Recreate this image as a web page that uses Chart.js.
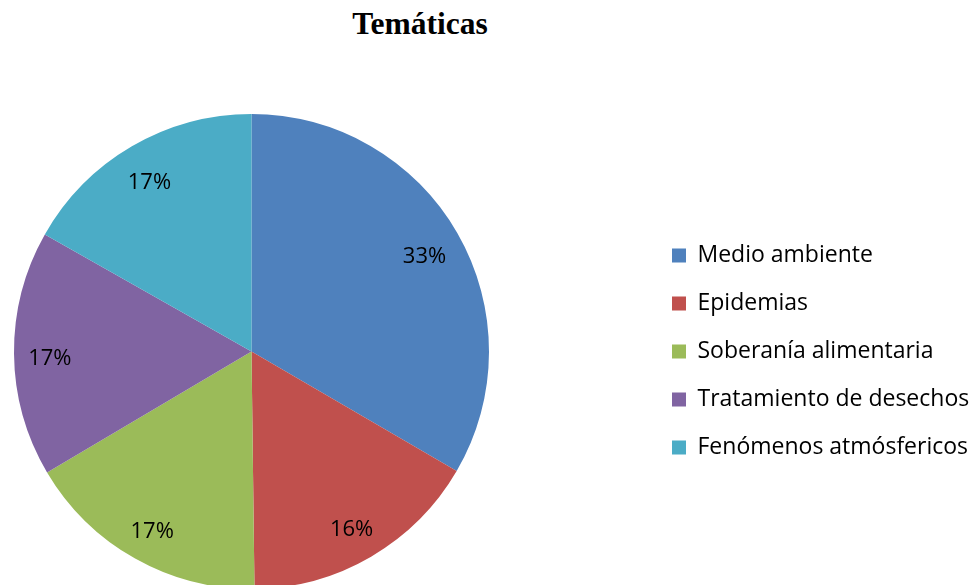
<!DOCTYPE html>
<html>
<head>
<meta charset="utf-8">
<script src="https://cdn.jsdelivr.net/npm/chart.js@4.4.1/dist/chart.umd.min.js"></script>
<style>
  html, body { margin: 0; padding: 0; background: #fff; overflow: hidden; }
  #wrap { position: relative; width: 973px; height: 585px; overflow: hidden; }
  #title {
    position: absolute; left: 220px; width: 400px; top: 6px;
    text-align: center; font: bold 31.5px "Liberation Serif", serif; color: #000;
  }
  #myChart { position: absolute; left: -144px; top: 0; }
</style>
</head>
<body>
<div id="wrap">
  <div id="title">Temáticas</div>
  <canvas id="myChart" width="1220" height="600"></canvas>
</div>
<script>
// datos
const categories = ['Medio ambiente', 'Epidemias', 'Soberanía alimentaria', 'Tratamiento de desechos', 'Fenómenos atmósfericos'];
const shares = [33.4, 16.4, 16.7, 16.7, 16.8];
const sliceColors = ['#4F81BD', '#C0504D', '#9BBB59', '#8064A2', '#4BACC6'];

// ancho del área del gráfico (el pastel queda centrado en ella)
const AREA_W = 791;

// etiquetas de porcentaje dentro de cada porción
const pctLabels = {
  id: 'pctLabels',
  afterDatasetsDraw(chart) {
    const ctx = chart.ctx;
    const meta = chart.getDatasetMeta(0);
    ctx.save();
    ctx.font = '22px "Open Sans"';
    ctx.fillStyle = '#000';
    ctx.textAlign = 'center';
    ctx.textBaseline = 'middle';
    meta.data.forEach((arc, i) => {
      const p = arc.getProps(['x', 'y', 'startAngle', 'endAngle', 'outerRadius'], true);
      const mid = (p.startAngle + p.endAngle) / 2;
      const r = p.outerRadius * 0.845;
      ctx.fillText(Math.round(shares[i]) + '%', p.x + Math.cos(mid) * r - 1, p.y + Math.sin(mid) * r + 5);
    });
    ctx.restore();
  }
};

Chart.defaults.font.family = '"Open Sans"';

const canvas = document.getElementById('myChart');
const ctx = canvas.getContext('2d');

const chart = new Chart(ctx, {
  type: 'pie',
  data: {
    labels: categories,
    datasets: [
      {
        data: shares,
        backgroundColor: sliceColors,
        borderWidth: 0
      }
    ]
  },
  options: {
    responsive: false,
    animation: false,
    layout: { padding: { left: 0, right: 0, top: 114, bottom: 11 } },
    plugins: {
      title: { display: false },
      tooltip: { enabled: false },
      legend: {
        position: 'right',
        labels: {
          boxWidth: 14,
          boxHeight: 14,
          padding: 25,
          color: '#000',
          font: { size: 23 }
        }
      }
    }
  },
  plugins: [pctLabels]
});

// ajustar el relleno derecho para que la leyenda quede a la derecha del pastel
chart.options.layout.padding.right = canvas.width - AREA_W - chart.legend.width;
chart.update();
</script>
</body>
</html>
